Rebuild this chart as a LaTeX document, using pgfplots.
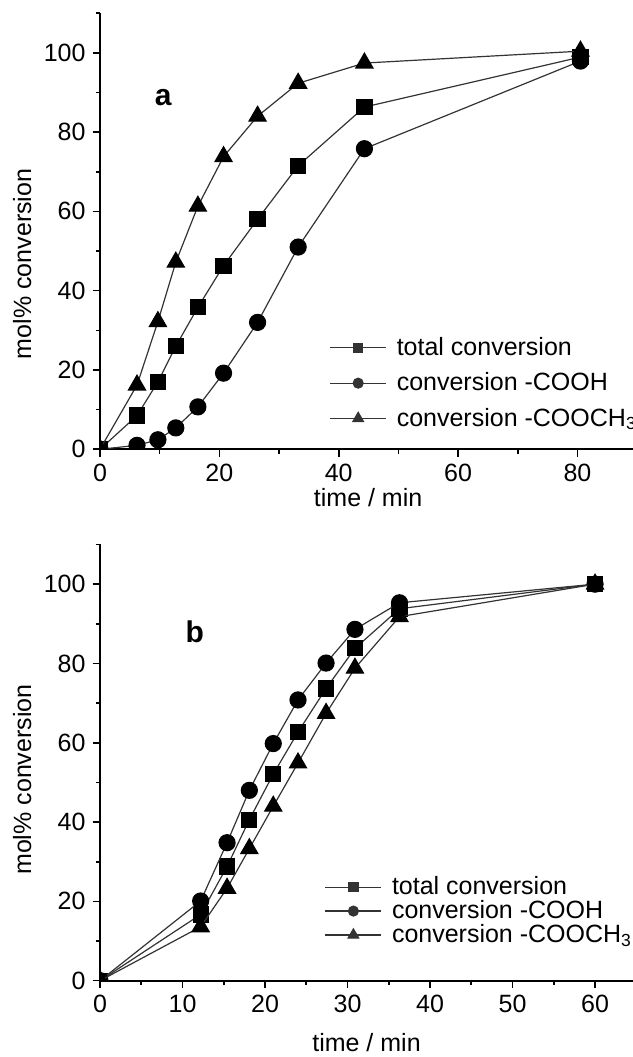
\documentclass[border=0pt]{standalone}
\usepackage{fontspec}
\setmainfont{Liberation Sans}
\usepackage{pgfplots}
\usepackage{pgfplotstable}
\pgfplotsset{compat=1.18}

\pgfplotstableread{
t tot cooh cooch
0 0 0 0
6.2 8.5 1.0 16.2
9.7 17.0 2.4 32.2
12.7 26.0 5.4 47.2
16.4 35.8 10.7 61.3
20.7 46.3 19.2 73.8
26.4 58.0 32.0 84.0
33.2 71.5 51.0 92.3
44.3 86.3 75.8 97.4
80.5 98.9 97.9 100.4
}\dataa

\pgfplotstableread{
t tot cooh cooch
0 0 0 0
12.2 16.7 20.1 13.6
15.4 28.8 34.8 23.3
18.1 40.6 48.0 33.3
21.0 52.1 59.8 44.0
24.0 62.7 70.8 54.9
27.4 73.7 80.1 67.4
30.9 83.8 88.6 78.8
36.3 93.8 95.3 91.8
60.0 100.0 100.0 100.0
}\datab

\pgfplotsset{
  myaxis/.style={
    scale only axis,
    width=266.5pt,
    height=218.1pt,
    axis lines=left,
    axis line style={-, line width=0.9pt},
    tick align=outside,
    major tick length=3.7pt,
    minor tick length=2.2pt,
    every tick/.style={line width=0.8pt, black},
    xmin=0, ymin=0, ymax=110,
    ytick={0,20,...,100},
    minor ytick={10,30,...,110},
    clip marker paths=true,
    tick label style={font=\fontsize{12.5}{14}\selectfont},
    /pgf/number format/assume math mode=true,
    label style={font=\fontsize{12.5}{14}\selectfont},
    ylabel={mol\% conversion},
    xlabel={time / min},
    legend cell align=left,
    legend image code/.code={\draw[mark repeat=2, mark phase=2, #1, mark options={scale=0.62}] plot coordinates {(0pt,0pt) (14pt,0pt) (28pt,0pt)};},
    every axis plot/.append style={line width=0.6pt, color=black!80, mark options={solid, fill=black, draw=black}},
  },
  sq/.style={mark=square*, mark size=3.75pt},
  ci/.style={mark=*, mark size=4pt},
  tr/.style={mark=triangle*, mark size=4.9pt},
}

\begin{document}
\begin{tikzpicture}
\begin{axis}[myaxis,
  at={(50pt,303.85pt)}, anchor=south west,
  xmax=89.3,
  xtick={0,20,...,80},
  minor xtick={10,30,50,70},
  ylabel style={at={(axis description cs:-0.146,0.425)}, anchor=center},
  xlabel style={at={(axis description cs:0.503,-0.13)}, anchor=base},
  legend style={draw=none, fill=none, inner sep=0pt, at={(axis cs:38.4,28.6)}, anchor=north west, row sep=6.1pt, column sep=4.5pt, nodes={inner sep=0.5pt}, font=\fontsize{12.5}{14}\selectfont},
]
\addplot[sq] table[x=t, y=tot] {\dataa};
\addlegendentry{total conversion}
\addplot[ci] table[x=t, y=cooh] {\dataa};
\addlegendentry{conversion -COOH}
\addplot[tr] table[x=t, y=cooch] {\dataa};
\addlegendentry{conversion -COOCH\textsubscript{3}}
\node[font=\bfseries\fontsize{15}{15}\selectfont] at (axis cs:10.6,88.6) {a};
\end{axis}

\begin{axis}[myaxis,
  at={(50pt,38.15pt)}, anchor=south west,
  xmax=64.6,
  xtick={0,10,...,60},
  minor xtick={5,15,...,55},
  ylabel style={at={(axis description cs:-0.146,0.461)}, anchor=center},
  xlabel style={at={(axis description cs:0.5,-0.162)}, anchor=base},
  legend style={draw=none, fill=none, inner sep=0pt, at={(axis cs:27.2,26.6)}, anchor=north west, row sep=0.4pt, column sep=4.5pt, nodes={inner sep=0.5pt}, font=\fontsize{12.5}{14}\selectfont},
]
\addplot[sq] table[x=t, y=tot] {\datab};
\addlegendentry{total conversion}
\addplot[ci] table[x=t, y=cooh] {\datab};
\addlegendentry{conversion -COOH}
\addplot[tr] table[x=t, y=cooch] {\datab};
\addlegendentry{conversion -COOCH\textsubscript{3}}
\node[font=\bfseries\fontsize{15}{15}\selectfont] at (axis cs:11.5,87.9) {b};
\end{axis}
\pgfresetboundingbox
\path[use as bounding box] (0,0) rectangle (316.5pt,528.5pt);
\end{tikzpicture}
\end{document}
